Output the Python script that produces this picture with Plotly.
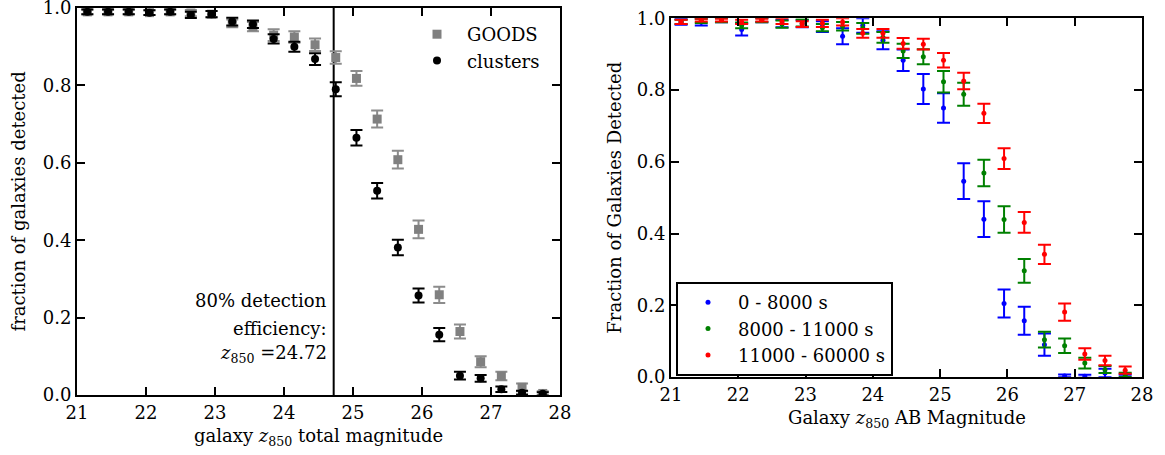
import plotly.graph_objects as go

W, H = 1165, 455

# ---------------- data ----------------
mag = [21.15, 21.45, 21.75, 22.05, 22.35, 22.65, 22.95, 23.25, 23.55, 23.85, 24.15, 24.45,
       24.75, 25.05, 25.35, 25.65, 25.95, 26.25, 26.55, 26.85, 27.15, 27.45, 27.75]

goods = [0.99, 0.99, 0.99, 0.988, 0.99, 0.987, 0.984, 0.96, 0.952, 0.93, 0.925, 0.905,
         0.872, 0.818, 0.713, 0.608, 0.428, 0.259, 0.164, 0.086, 0.049, 0.02, 0.004]
goods_err = [0.006, 0.006, 0.006, 0.006, 0.006, 0.008, 0.008, 0.01, 0.012, 0.015, 0.015, 0.016,
             0.016, 0.019, 0.022, 0.023, 0.023, 0.021, 0.018, 0.014, 0.011, 0.01, 0.006]

clusters = [0.99, 0.99, 0.99, 0.988, 0.99, 0.982, 0.984, 0.965, 0.958, 0.92, 0.90, 0.868,
            0.79, 0.665, 0.528, 0.381, 0.257, 0.156, 0.05, 0.043, 0.015, 0.006, 0.003]
clusters_err = [0.006, 0.006, 0.006, 0.006, 0.006, 0.008, 0.008, 0.01, 0.01, 0.012, 0.013, 0.015,
                0.018, 0.02, 0.02, 0.02, 0.018, 0.017, 0.01, 0.009, 0.007, 0.005, 0.004]

blue = [0.99, 0.99, 0.995, 0.969, 0.995, 0.985, 0.985, 0.977, 0.95, 0.98, 0.939, 0.883,
        0.803, 0.75, 0.546, 0.44, 0.205, 0.157, 0.09, 0.003, 0.002, 0.011, 0.002]
blue_err = [0.008, 0.01, 0.006, 0.017, 0.006, 0.01, 0.01, 0.015, 0.022, 0.02, 0.025, 0.03,
            0.042, 0.041, 0.05, 0.05, 0.039, 0.039, 0.031, 0.004, 0.004, 0.012, 0.004]

green = [0.99, 0.993, 0.995, 0.98, 0.995, 0.984, 0.987, 0.974, 0.978, 0.972, 0.947, 0.909,
         0.893, 0.823, 0.788, 0.569, 0.439, 0.296, 0.104, 0.087, 0.039, 0.021, 0.006]
green_err = [0.006, 0.006, 0.006, 0.008, 0.006, 0.01, 0.01, 0.01, 0.012, 0.015, 0.015, 0.02,
             0.021, 0.03, 0.032, 0.037, 0.037, 0.033, 0.022, 0.02, 0.015, 0.01, 0.006]

red = [0.99, 0.995, 0.995, 0.99, 0.995, 0.992, 0.984, 0.986, 0.99, 0.958, 0.958, 0.93,
       0.928, 0.883, 0.825, 0.735, 0.609, 0.431, 0.342, 0.181, 0.064, 0.046, 0.019]
red_err = [0.006, 0.004, 0.004, 0.006, 0.004, 0.008, 0.008, 0.01, 0.01, 0.012, 0.012, 0.015,
           0.015, 0.02, 0.023, 0.027, 0.029, 0.029, 0.027, 0.024, 0.016, 0.013, 0.01]

x_ticks = [21, 22, 23, 24, 25, 26, 27, 28]
y_ticks = [0.0, 0.2, 0.4, 0.6, 0.8, 1.0]
det_limit = 24.72

FONT = "'DejaVu Serif', 'Liberation Serif', serif"
FS = 18


def px(x):
    return x / W


def py(y):
    return 1 - y / H


fig = go.Figure()

# ---------------- left panel ----------------
fig.add_trace(go.Scatter(
    x=mag, y=goods, mode="markers", name="GOODS",
    marker=dict(symbol="square", size=9, color="#808080"),
    error_y=dict(type="data", array=goods_err, color="#8c8c8c", thickness=2, width=6),
    xaxis="x", yaxis="y", legend="legend", legendgroup="g1"))
fig.add_trace(go.Scatter(
    x=mag, y=clusters, mode="markers", name="clusters",
    marker=dict(symbol="circle", size=8, color="black"),
    error_y=dict(type="data", array=clusters_err, color="black", thickness=2, width=6),
    xaxis="x", yaxis="y", legend="legend", legendgroup="g2"))

# ---------------- right panel ----------------
for name, vals, errs, col, grp in [
        ("0 - 8000 s", blue, blue_err, "#0000ff", "r1"),
        ("8000 - 11000 s", green, green_err, "#008000", "r2"),
        ("11000 - 60000 s", red, red_err, "#ff0000", "r3")]:
    fig.add_trace(go.Scatter(
        x=mag, y=vals, mode="markers", name=name,
        marker=dict(symbol="circle", size=5, color=col),
        error_y=dict(type="data", array=errs, color=col, thickness=2, width=6.5),
        xaxis="x2", yaxis="y2", legend="legend2", legendgroup=grp))

axis_common = dict(
    showline=True, linecolor="black", linewidth=2, mirror="ticks",
    ticks="inside", ticklen=8, tickwidth=1.5, tickcolor="black",
    showgrid=False, zeroline=False, automargin=False,
    ticklabeloverflow="allow",
    tickfont=dict(family=FONT, size=FS, color="black"),
)

L_x0, L_x1, L_y0, L_y1 = 77, 560, 395, 8
R_x0, R_x1, R_y0, R_y1 = 671, 1142, 377, 18.3

fig.update_layout(
    width=W, height=H,
    margin=dict(l=0, r=0, t=0, b=0),
    paper_bgcolor="white", plot_bgcolor="white",
    font=dict(family=FONT, size=FS, color="black"),
    xaxis=dict(domain=[px(L_x0), px(L_x1)], range=[21, 28], tickvals=x_ticks,
               anchor="y", **axis_common),
    yaxis=dict(domain=[py(L_y0), py(L_y1)], range=[0, 1], tickvals=y_ticks,
               tickformat=".1f", anchor="x", **axis_common),
    xaxis2=dict(domain=[px(R_x0), px(R_x1)], range=[21, 28], tickvals=x_ticks,
                anchor="y2", **axis_common),
    yaxis2=dict(domain=[py(R_y0), py(R_y1)], range=[0, 1], tickvals=y_ticks,
                tickformat=".1f", anchor="x2", **axis_common),
    legend=dict(x=px(407), y=py(16), xanchor="left", yanchor="top",
                bgcolor="rgba(0,0,0,0)", borderwidth=0,
                font=dict(family=FONT, size=FS), tracegroupgap=0,
                itemwidth=50),
    legend2=dict(x=px(676), y=py(282), xanchor="left", yanchor="top",
                 bgcolor="white", bordercolor="black", borderwidth=2,
                 font=dict(family=FONT, size=FS), tracegroupgap=0,
                 itemwidth=50),
    showlegend=True,
)

fig.add_shape(type="line", xref="x", yref="y domain", x0=det_limit, x1=det_limit,
              y0=0, y1=1, line=dict(color="black", width=2), layer="below")

annots = [
    dict(text="fraction of galaxies detected", x=px(18), y=py((L_y0 + L_y1) / 2),
         textangle=-90),
    dict(text="galaxy <i>z</i><sub>850</sub> total magnitude", x=px((L_x0 + L_x1) / 2),
         y=py(437)),
    dict(text="Fraction of Galaxies Detected", x=px(615), y=py((R_y0 + R_y1) / 2),
         textangle=-90),
    dict(text="Galaxy <i>z</i><sub>850</sub> AB Magnitude", x=px((R_x0 + R_x1) / 2),
         y=py(419)),
]
for a in annots:
    fig.add_annotation(xref="paper", yref="paper", showarrow=False,
                       xanchor="center", yanchor="middle",
                       font=dict(family=FONT, size=FS, color="black"), **a)

for txt, yy in [("80% detection", 300), ("efficiency:", 328),
                ("<i>z</i><sub>850</sub> =24.72", 354)]:
    fig.add_annotation(xref="paper", yref="paper", showarrow=False,
                       x=px(329), y=py(yy), xanchor="right", yanchor="middle",
                       text=txt, font=dict(family=FONT, size=FS, color="black"))

fig.write_html("out.html")
